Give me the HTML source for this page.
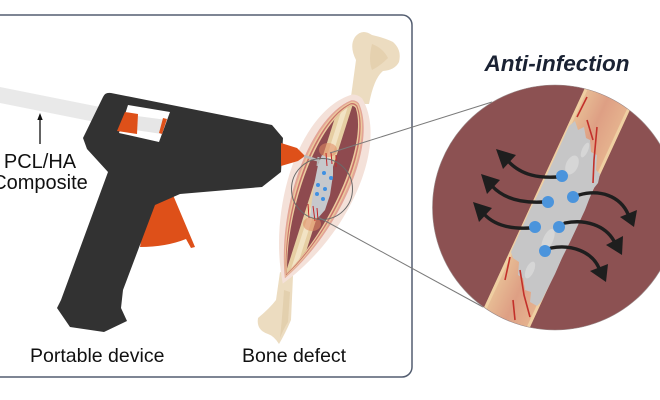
<!DOCTYPE html>
<html><head><meta charset="utf-8"><style>
html,body{margin:0;padding:0;background:#fff;}
svg{display:block;}
text{font-family:"Liberation Sans",Arial,sans-serif;}
</style></head><body>
<svg width="660" height="400" viewBox="0 0 660 400" xmlns="http://www.w3.org/2000/svg">
<defs>
<path id="lens" d="M-4,-95 Q0,-97 4,-95 C36,-65 34,30 0,95 C-34,30 -36,-65 -4,-95 Z"/>
<clipPath id="cc"><circle cx="555" cy="207.5" r="122.5"/></clipPath>
<clipPath id="inner"><path transform="translate(320,190) rotate(21.7) scale(0.74,0.94)" d="M-4,-95 Q0,-97 4,-95 C36,-65 34,30 0,95 C-34,30 -36,-65 -4,-95 Z"/></clipPath>
<linearGradient id="bandg" x1="0" y1="0" x2="1" y2="0">
<stop offset="0" stop-color="#e8bf96"/><stop offset="0.5" stop-color="#de9f84"/><stop offset="1" stop-color="#e6b48f"/>
</linearGradient>
</defs>

<!-- panel box -->
<rect x="-10" y="15" width="422" height="362" rx="10" ry="10" fill="none" stroke="#535d70" stroke-width="1.5"/>

<!-- filament -->
<polygon points="-5,86 125,112 125,128 -5,102" fill="#e9e9e9"/>

<!-- trigger -->
<path d="M158,200 L173,195 L195,247 L191,248 L186,239 Q166,247 140,247 L146,214 Z" fill="#de5019"/>

<!-- gun body -->
<path d="M103,97 Q105,92 111,93 L272,125 L283,138 L281,172 L262,187 L180,194 L155,205 L123,290 L121,308 L127,321 L104,332 L70,327 L57,308 L61,300 L108,172 L87,149 L83,138 Z" fill="#323232"/>
<!-- window -->
<polygon points="128,105 170,112 159,142 119,133" fill="#fff"/>
<polygon points="137,116 167,120 162,134 135,130" fill="#e6e6e6"/>
<polygon points="125,112 138,114 137,134 117,131" fill="#de5019"/>
<polygon points="163,118 167,119 162,134 159,133" fill="#de5019"/>

<!-- PCL arrow + label -->
<line x1="40" y1="119" x2="40" y2="144" stroke="#111" stroke-width="1.3"/>
<polygon points="40,113 37.3,120 42.7,120" fill="#111"/>
<text x="40" y="168" font-size="20" text-anchor="middle" fill="#111">PCL/HA</text>
<text x="40" y="189" font-size="20" text-anchor="middle" fill="#111">Composite</text>

<!-- bone -->
<path d="M350,104 L356,60 Q349,46 355,37 Q362,28 372,35 Q385,38 393,42 Q402,50 399,62 Q395,70 383,71 Q374,78 369,104 Z" fill="#ecdcc0"/>
<path d="M372,44 Q383,48 388,58 Q380,66 372,70 Q368,60 372,44Z" fill="#e2cca8" opacity="0.7"/>
<path d="M280,272 L293,276 L291,320 Q285,334 279,344 Q274,336 268,334 Q256,330 258,318 Q270,308 276,300 Z" fill="#ecdcc0"/>
<path d="M284,290 L290,292 L288,322 Q283,330 280,338 Q282,320 284,290Z" fill="#e0caa6" opacity="0.7"/>

<!-- incision -->
<g transform="translate(320,190) rotate(21.7)">
<use href="#lens" transform="scale(1.3,1.06)" fill="#f4e1d9"/>
<use href="#lens" fill="#e3a596"/>
<use href="#lens" transform="scale(0.92,0.985)" fill="#eccb9e"/>
<use href="#lens" transform="scale(0.86,0.97)" fill="#c9716b"/>
<use href="#lens" transform="scale(0.8,0.955)" fill="#eccb9e"/>
<use href="#lens" transform="scale(0.74,0.94)" fill="#8e4a4f"/>
</g>
<g clip-path="url(#inner)">
<line x1="349" y1="95" x2="288.6" y2="285" stroke="#e6cea2" stroke-width="13"/>
<line x1="349" y1="95" x2="288.6" y2="285" stroke="#f2e3c4" stroke-width="5"/>
<ellipse cx="328" cy="150" rx="9" ry="7" fill="#e08a62" opacity="0.55"/>
<ellipse cx="312" cy="224" rx="9" ry="7" fill="#e08a62" opacity="0.55"/>
</g>
<!-- nozzle (over incision) -->
<polygon points="281,143 297,148 305,156 298,161 281,166" fill="#de5019"/>
<line x1="304" y1="156" x2="320" y2="161" stroke="#b9b9b9" stroke-width="2.5"/>
<line x1="318.5" y1="157" x2="317.5" y2="166" stroke="#b9b9b9" stroke-width="2"/>
<!-- small scaffold -->
<polygon points="322,155 333,160 333,175 330,195 325,210 318,218 310,217 312,200 315,180 318,165" fill="#c6c8cc"/>
<g stroke="#c2272a" stroke-width="1" fill="none">
<path d="M326,153 L327,166 M331,152 L332,164 M336,155 L336,167"/>
<path d="M308,204 L309,218 M313,206 L315,221 M317,208 L318,220"/>
</g>
<g fill="#3f90e2">
<circle cx="324" cy="173" r="2"/><circle cx="331" cy="178" r="2"/>
<circle cx="318" cy="185" r="2"/><circle cx="325" cy="189" r="2"/>
<circle cx="317" cy="194" r="2"/><circle cx="323" cy="199" r="2"/>
</g>
<circle cx="322" cy="189" r="30.5" fill="none" stroke="#6a6a6a" stroke-width="1"/>

<!-- zoom lines -->
<line x1="330" y1="153" x2="492" y2="102" stroke="#7a7a7a" stroke-width="1"/>
<line x1="318" y1="217" x2="483" y2="307" stroke="#7a7a7a" stroke-width="1"/>

<!-- big circle -->
<circle cx="555" cy="207.5" r="122.5" fill="#8c5152"/>
<g clip-path="url(#cc)">
<g transform="translate(557.5,207.5) rotate(24.7)">
<rect x="-25" y="-170" width="50" height="340" fill="url(#bandg)"/>
<rect x="-25" y="-170" width="3" height="340" fill="#efcfa2"/>
<rect x="22" y="-170" width="3" height="340" fill="#efcfa2"/>
</g>
<polygon points="569,126 575,121 578,130 584,127 586,138 590,140 591,152 597,155 596,170 600,174 598,183 594,188 590,197 585,210 578,225 570,242 562,258 555,274 548,288 541,302 537,306 530,302 531,292 525,290 523,278 518,275 519,262 513,258 511,252 520,232 530,210 540,190 550,168 560,146" fill="#c6c6c7"/>
<g fill="#dadada" opacity="0.8">
<ellipse cx="572" cy="165" rx="6" ry="10" transform="rotate(24 572 165)"/>
<ellipse cx="548" cy="240" rx="5" ry="12" transform="rotate(24 548 240)"/>
<ellipse cx="585" cy="150" rx="3" ry="8" transform="rotate(24 585 150)"/>
<ellipse cx="530" cy="270" rx="4" ry="9" transform="rotate(24 530 270)"/>
</g>
<g stroke="#c3302a" stroke-width="1.6" fill="none">
<path d="M577,117 L587,97"/><path d="M587,120 L593,140"/><path d="M597,127 L594,160 L593,183"/>
<path d="M505,280 L510,257"/><path d="M520,270 L524,295 L530,317"/><path d="M513,300 L515,320"/>
</g>
</g>
<circle cx="555" cy="207.5" r="122.5" fill="none" stroke="#9a8a8a" stroke-width="0.6"/>

<!-- arrows -->
<g stroke="#1e1e1e" stroke-width="3.4" fill="none" stroke-linecap="round">
<path d="M557,177 C540,178 522,176 508,161"/>
<path d="M543,202 C525,203 505,200 492,186"/>
<path d="M530,228 C513,229 495,226 484,214"/>
<path d="M579,195 C600,189 620,196 628,214"/>
<path d="M565,223 C585,219 605,225 614,241"/>
<path d="M551,248 C572,244 592,252 599,268"/>
</g>
<g fill="#1e1e1e">
<polygon points="496,149 516,155 503,169"/>
<polygon points="481,174 500,180 487,194"/>
<polygon points="473,202 492,208 479,222"/>
<polygon points="634,227 637,210 620,217"/>
<polygon points="622,255 623,236 606,245"/>
<polygon points="606,282 608,264 590,271"/>
</g>
<g fill="#4b94dc">
<circle cx="562" cy="176" r="6"/><circle cx="548" cy="202" r="6"/><circle cx="573" cy="197" r="6"/>
<circle cx="535" cy="227" r="6"/><circle cx="559" cy="227" r="6"/><circle cx="545" cy="251" r="6"/>
</g>

<!-- labels -->
<text x="557" y="71" font-size="22.5" font-weight="bold" font-style="italic" text-anchor="middle" fill="#1a2233">Anti-infection</text>
<text x="30" y="362" font-size="19.5" fill="#111">Portable device</text>
<text x="242" y="362" font-size="19.5" fill="#111">Bone defect</text>
</svg>
</body></html>
